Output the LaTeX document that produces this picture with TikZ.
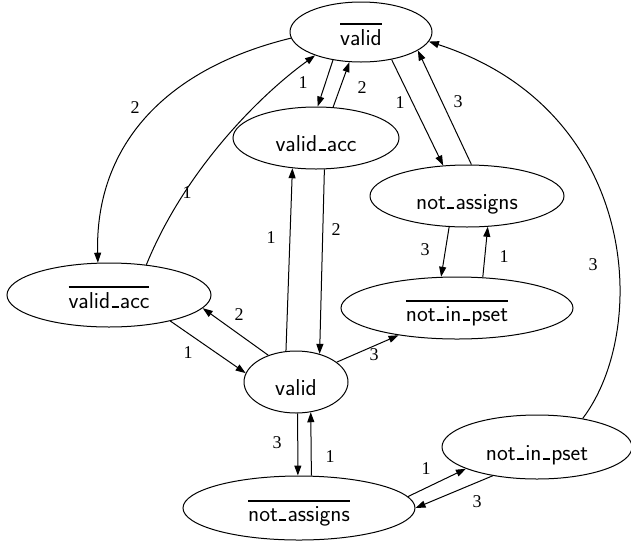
\documentclass[tikz,border=0pt]{standalone}
\usepackage{fontspec}
\newfontfamily\lblfont{Liberation Serif}
\usetikzlibrary{shapes.geometric,arrows.meta}

\newcommand{\nega}[1]{\vbox{\hrule height 2pt\kern 4pt\hbox{#1}}}
\newcommand{\us}{\kern.06em\vbox{\hrule width .3em height 1.6pt}\kern.06em}

\tikzset{
	state/.style={ellipse, draw, line width=1pt, inner sep=0pt, text height=26pt, text depth=0pt, font=\fontsize{23}{27}\selectfont\sffamily},
	trans/.style={-{Triangle[length=10pt,width=7pt]}, line width=1pt},
	lbl/.style={font=\fontsize{18}{20}\selectfont\lblfont, inner sep=0pt}
}

\begin{document}
\begin{tikzpicture}[x=1pt,y=-1pt]
	\useasboundingbox (0,0) rectangle (631,544);

	\node[state, minimum width=142pt, minimum height=60pt] (vbar) at (361,32) {\nega{valid}};
	\node[state, minimum width=166pt, minimum height=62pt] (vacc) at (316,138) {valid\us acc};
	\node[state, minimum width=194pt, minimum height=62pt] (nas) at (467,196) {not\us assigns};
	\node[state, minimum width=232pt, minimum height=62pt] (nipbar) at (457,308) {\nega{not\us in\us pset}};
	\node[state, minimum width=204pt, minimum height=64pt] (vaccbar) at (109,295) {\nega{valid\us acc}};
	\node[state, minimum width=104pt, minimum height=62pt] (valid) at (296,382) {valid};
	\node[state, minimum width=232pt, minimum height=64pt] (nasbar) at (299,508) {\nega{not\us assigns}};
	\node[state, minimum width=190pt, minimum height=64pt] (nip) at (537,447) {not\us in\us pset};

	\draw[trans] (vbar.-135) -- (vacc.87);
	\draw[trans] (vacc.61.6) -- (vbar.-111.5);
	\draw[trans] (vbar.-42.4) -- (nas.128.3);
	\draw[trans] (nas.82) -- (vbar.-18);
	\draw[trans] (nas.-120.5) -- (nipbar.117);
	\draw[trans] (nipbar.50) -- (nas.-56.7);

	\draw[trans] (valid.108) -- (vacc.-128);
	\draw[trans] (vacc.-75) -- (valid.50);
	\draw[trans] (valid.136.9) -- (vaccbar.-8);
	\draw[trans] (vaccbar.-23.9) -- (valid.170);
	\draw[trans] (valid.26) -- (nipbar.-155);
	\draw[trans] (valid.-87) -- (nasbar.92);
	\draw[trans] (nasbar.69.4) -- (valid.-64);
	\draw[trans] (nasbar.6.9) -- (nip.-163);
	\draw[trans] (nip.-147) -- (nasbar.0.5);

	\draw[trans] (vbar.-175) .. controls (160,70) and (95,150) .. (vaccbar.109);
	\draw[trans] (vaccbar.39.4) .. controls (185,170) and (260,95) .. (vbar.-153.9);
	\draw[trans] (nip.32.8) .. controls (650,330) and (640,110) .. (vbar.-8.7);

	\node[lbl] (t1) at (303,83) {1};
	\node[lbl] (t2) at (362,88) {2};
	\node[lbl] (t3) at (400,103) {1};
	\node[lbl] (t4) at (458,102) {3};
	\node[lbl] (t5) at (425,250) {3};
	\node[lbl] (t6) at (504,257) {1};
	\node[lbl] (t7) at (271,238) {1};
	\node[lbl] (t8) at (336,230) {2};
	\node[lbl] (t9) at (239,315) {2};
	\node[lbl] (t10) at (188,353) {1};
	\node[lbl] (t11) at (374,355) {3};
	\node[lbl] (t12) at (277,443) {3};
	\node[lbl] (t13) at (330,457) {1};
	\node[lbl] (t14) at (426,469) {1};
	\node[lbl] (t15) at (477,502) {3};
	\node[lbl] (t16) at (135,108) {2};
	\node[lbl] (t17) at (187,193) {1};
	\node[lbl] (t18) at (593,265) {3};
\end{tikzpicture}
\end{document}
